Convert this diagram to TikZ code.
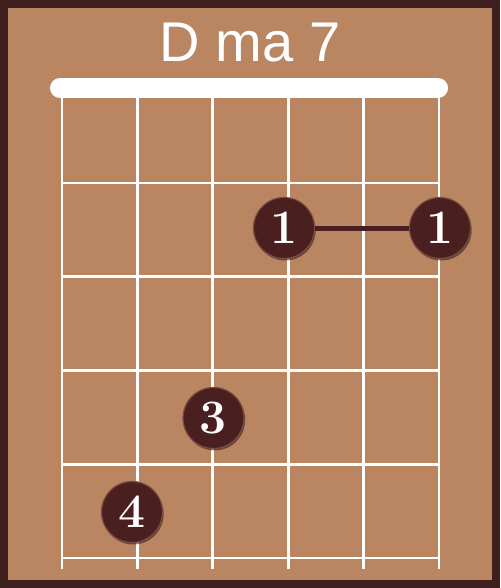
\documentclass[tikz,border=0pt]{standalone}
\usepackage{fontspec}
\newfontfamily\titlefont{Liberation Sans}
\usetikzlibrary{shadows}
\definecolor{boardtan}{HTML}{BA8662}
\definecolor{framebrown}{HTML}{40201E}
\definecolor{dotbrown}{HTML}{4A1F1F}
\definecolor{rimbrown}{HTML}{7A4A44}
\begin{document}
\begin{tikzpicture}[x=1pt,y=-1pt,
  stringline/.style={white,line width=2.7pt},
  fretline/.style={white,line width=2.7pt},
  nutbar/.style={white,line width=20pt,line cap=round},
  barre/.style={dotbrown,line width=5pt},
  fingerdot/.style={circle,minimum size=61pt,inner sep=0pt,fill=dotbrown,draw=rimbrown,line width=1.2pt,text=white,
    font=\bfseries\fontsize{48}{48}\selectfont,
    drop shadow={shadow xshift=1.2pt,shadow yshift=-2pt,opacity=0.45,fill=black}},
  titletext/.style={white,font=\titlefont\fontsize{56}{56}\selectfont,inner sep=0pt,anchor=base}]
  \useasboundingbox (0,0) rectangle (500,588);
  \fill[framebrown] (0,0) rectangle (500,588);
  \fill[boardtan] (8,8) rectangle (492,580);
  \node[titletext] (title) at (250,62) {D ma 7};
  % strings
  \foreach \i/\x in {1/62,2/137.4,3/212.8,4/288.2,5/363.6,6/439}{
    \coordinate (s\i top) at (\x,97);
    \coordinate (s\i bot) at (\x,569);
    \draw[stringline] (s\i top) -- (s\i bot);
  }
  % frets
  \foreach \j/\y in {1/183,2/276.75,3/370.5,4/464.25,5/558}{
    \coordinate (f\j l) at (62,\y);
    \coordinate (f\j r) at (439,\y);
    \draw[fretline] (f\j l) -- (f\j r);
  }
  % nut
  \coordinate (nutl) at (60,88);
  \coordinate (nutr) at (438,88);
  \draw[nutbar] (nutl) -- (nutr);
  % finger dots
  \node[fingerdot] (d1) at (284,228) {1};
  \node[fingerdot] (d2) at (440,228) {1};
  \node[fingerdot] (d3) at (213.5,418) {3};
  \node[fingerdot] (d4) at (132,512) {4};
  \draw[barre] (d1) -- (d2);
\end{tikzpicture}
\end{document}
